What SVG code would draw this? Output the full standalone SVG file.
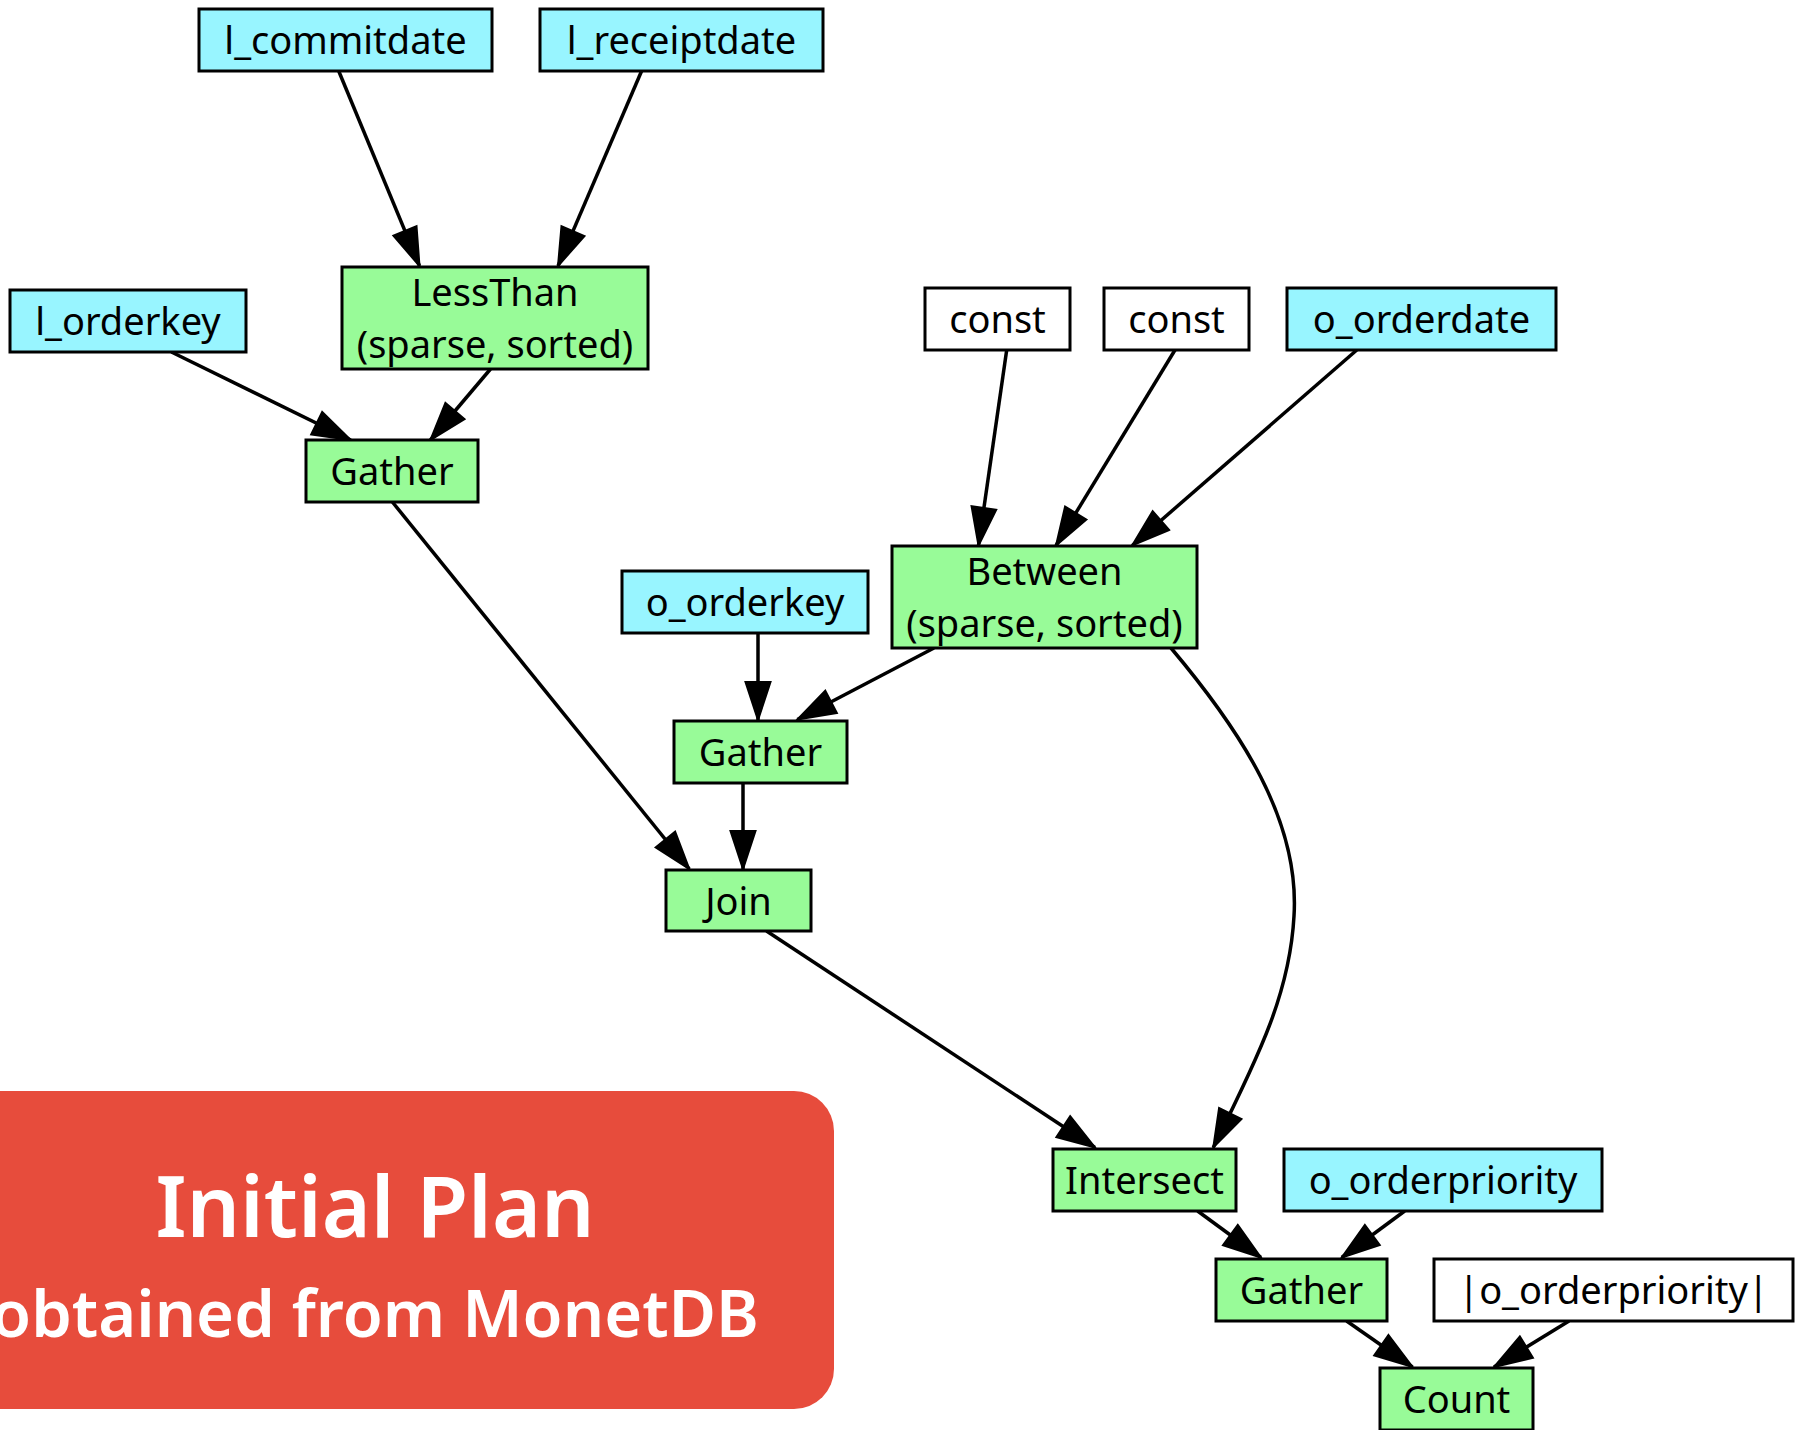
<svg xmlns="http://www.w3.org/2000/svg" width="1795" height="1430" viewBox="0 0 1795 1430">
  <style>
    .node rect { stroke: #000; stroke-width: 3; }
    .col { fill: #98F5FF; }
    .op { fill: #98FB98; }
    .lit { fill: #FFFFFF; }
    .node text { font-family: "Noto Sans", "Open Sans", sans-serif; font-size: 38px; fill: #000; text-anchor: middle; }
    .edge { fill: none; stroke: #000; stroke-width: 3.5; marker-end: url(#arrow); }
    .banner text { font-family: "Noto Sans", "Open Sans", sans-serif; fill: #FFFFFF; text-anchor: middle; }
  </style>
  <defs>
    <marker id="arrow" markerUnits="userSpaceOnUse" markerWidth="44" markerHeight="30" viewBox="-2 -15 42 30" refX="38" refY="0" orient="auto">
      <path d="M0,-12.5 L38,0 L0,12.5 z" fill="#000" stroke="#000" stroke-width="2"/>
    </marker>
  </defs>

  <rect width="1795" height="1430" fill="#FFFFFF"/>

  <!-- connectors -->
  <g id="edges">
    <path class="edge" d="M338.7,71 L419.5,266"/>
    <path class="edge" d="M641.6,71 L558,266"/>
    <path class="edge" d="M171.4,352 L350.8,440"/>
    <path class="edge" d="M490.5,369 L430.4,440"/>
    <path class="edge" d="M392.4,502 L689.3,869"/>
    <path class="edge" d="M758,633 L758,720"/>
    <path class="edge" d="M934,648 L797.4,719.5"/>
    <path class="edge" d="M743,783 L743,869"/>
    <path class="edge" d="M1006.7,350 L978.5,545.5"/>
    <path class="edge" d="M1175,350 L1056,545.5"/>
    <path class="edge" d="M1356.8,350 L1132.2,545.5"/>
    <path class="edge" d="M1171,648 C1240,730 1300,820 1294,916 C1290,990 1262,1050 1213.3,1147.5"/>
    <path class="edge" d="M766.5,931 L1095,1147.5"/>
    <path class="edge" d="M1197.6,1211 L1261,1257.5"/>
    <path class="edge" d="M1404.7,1211 L1341.7,1257.5"/>
    <path class="edge" d="M1346.6,1321 L1412.5,1367"/>
    <path class="edge" d="M1569,1321 L1494,1367"/>
  </g>

  <!-- nodes -->
  <g id="l_commitdate" class="node">
    <rect class="col" x="199" y="9" width="293" height="62"/>
    <text x="345.5" y="54.3">l_commitdate</text>
  </g>
  <g id="l_receiptdate" class="node">
    <rect class="col" x="540" y="9" width="283" height="62"/>
    <text x="681.5" y="54.3">l_receiptdate</text>
  </g>
  <g id="l_orderkey" class="node">
    <rect class="col" x="10" y="290" width="236" height="62"/>
    <text x="128" y="335.3">l_orderkey</text>
  </g>
  <g id="lessthan" class="node">
    <rect class="op" x="342" y="267" width="306" height="102"/>
    <text x="495" y="306">LessThan</text>
    <text x="495" y="357.7">(sparse, sorted)</text>
  </g>
  <g id="gather1" class="node">
    <rect class="op" x="306" y="440" width="172" height="62"/>
    <text x="392" y="485.3">Gather</text>
  </g>
  <g id="const1" class="node">
    <rect class="lit" x="925" y="288" width="145" height="62"/>
    <text x="997.5" y="333.3">const</text>
  </g>
  <g id="const2" class="node">
    <rect class="lit" x="1104" y="288" width="145" height="62"/>
    <text x="1176.5" y="333.3">const</text>
  </g>
  <g id="o_orderdate" class="node">
    <rect class="col" x="1287" y="288" width="269" height="62"/>
    <text x="1421.5" y="333.3">o_orderdate</text>
  </g>
  <g id="between" class="node">
    <rect class="op" x="892" y="546" width="305" height="102"/>
    <text x="1044.5" y="585">Between</text>
    <text x="1044.5" y="636.7">(sparse, sorted)</text>
  </g>
  <g id="o_orderkey" class="node">
    <rect class="col" x="622" y="571" width="246" height="62"/>
    <text x="745" y="616.3">o_orderkey</text>
  </g>
  <g id="gather2" class="node">
    <rect class="op" x="674" y="721" width="173" height="62"/>
    <text x="760.5" y="766.3">Gather</text>
  </g>
  <g id="join" class="node">
    <rect class="op" x="666" y="870" width="145" height="61"/>
    <text x="738.5" y="915">Join</text>
  </g>
  <g id="intersect" class="node">
    <rect class="op" x="1053" y="1149" width="183" height="62"/>
    <text x="1144.5" y="1194.3">Intersect</text>
  </g>
  <g id="o_orderpriority" class="node">
    <rect class="col" x="1284" y="1149" width="318" height="62"/>
    <text x="1443" y="1194.3">o_orderpriority</text>
  </g>
  <g id="gather3" class="node">
    <rect class="op" x="1216" y="1259" width="171" height="62"/>
    <text x="1301.5" y="1304.3">Gather</text>
  </g>
  <g id="card_o_orderpriority" class="node">
    <rect class="lit" x="1434" y="1259" width="359" height="62"/>
    <text x="1613.5" y="1304.3">|o_orderpriority|</text>
  </g>
  <g id="count" class="node">
    <rect class="op" x="1380" y="1368" width="153" height="62"/>
    <text x="1456.5" y="1413.3">Count</text>
  </g>

  <!-- title banner -->
  <g id="banner" class="banner">
    <rect x="-60" y="1091" width="894" height="318" rx="40" ry="40" fill="#E74C3C"/>
    <text x="375" y="1237" font-size="84" font-weight="600">Initial Plan</text>
    <text x="375" y="1337" font-size="65" font-weight="600">obtained from MonetDB</text>
  </g>
</svg>
